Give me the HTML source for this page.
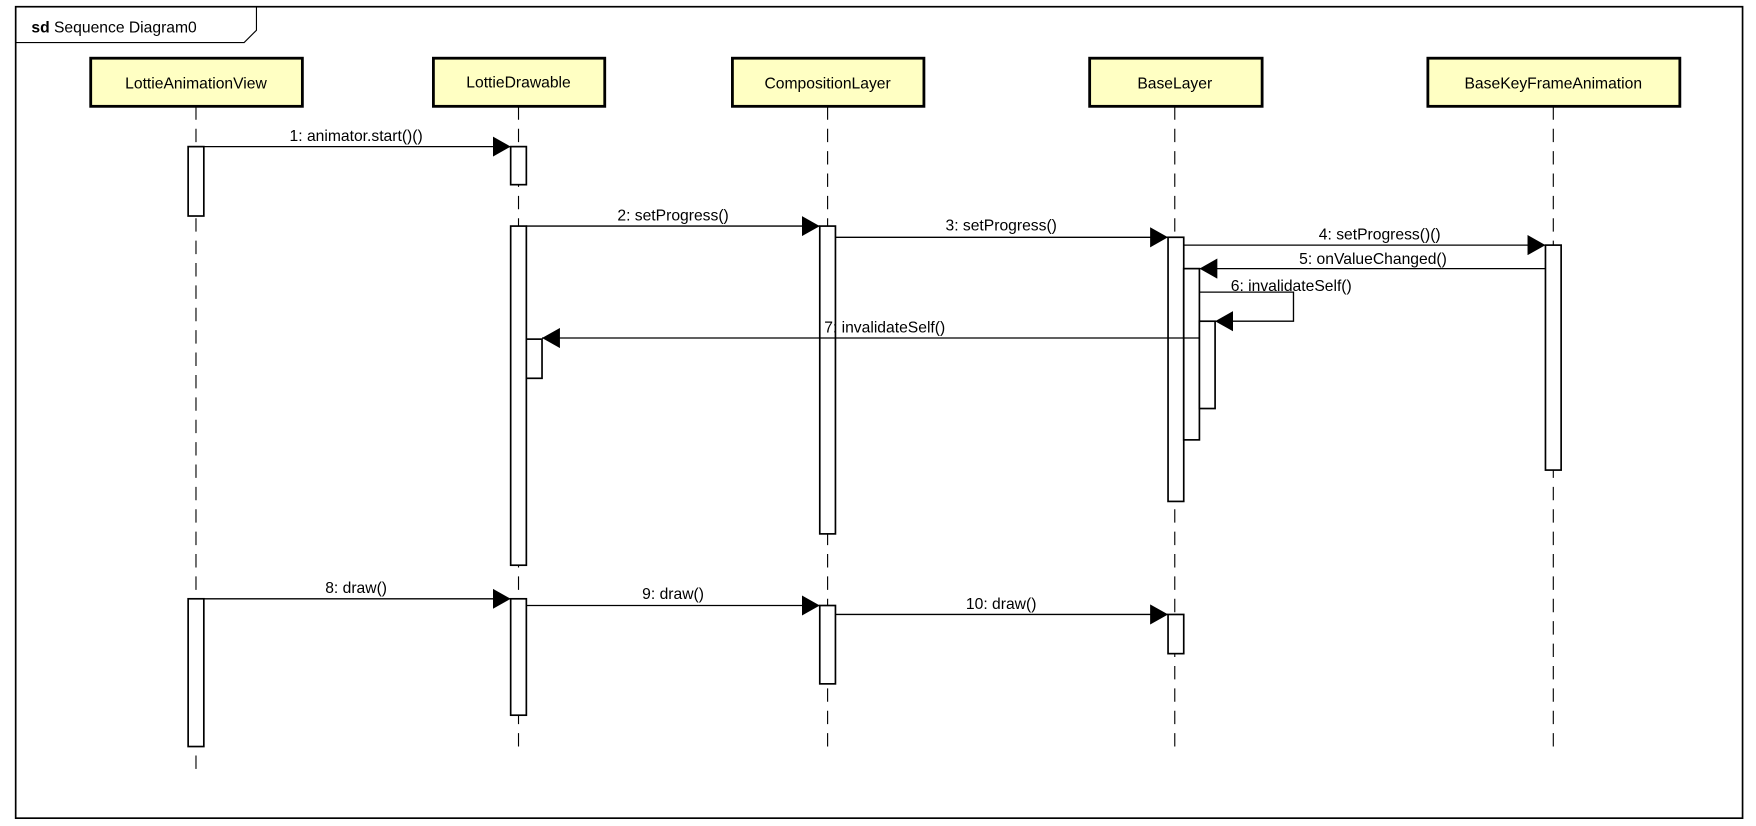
<!DOCTYPE html>
<html><head><meta charset="utf-8"><style>
html,body{margin:0;padding:0;background:#fff;width:1756px;height:826px;overflow:hidden}
svg{display:block}
text{font-family:"Liberation Sans",sans-serif;font-size:14px;fill:#000}
</style></head><body>
<svg width="1756" height="826" viewBox="0 0 1568 738" preserveAspectRatio="none">
<defs>
<marker id="ah" markerWidth="16" markerHeight="18" refX="16" refY="9" orient="auto" markerUnits="userSpaceOnUse">
<path d="M0,0 L16,9 L0,18 Z" fill="#000"/>
</marker>
</defs>
<rect x="14" y="6" width="1542" height="725" fill="#fff" stroke="#000" stroke-width="1.5"/>
<path d="M14,38 L218,38 L229,27 L229,6" fill="none" stroke="#000" stroke-width="1"/>
<text x="28" y="29" font-size="15"><tspan font-weight="bold">sd</tspan> Sequence Diagram0</text>

<g stroke="#000" stroke-width="1" stroke-dasharray="12,8" fill="none">
<line x1="175" y1="95" x2="175" y2="690"/>
<line x1="463" y1="95" x2="463" y2="672"/>
<line x1="739" y1="95" x2="739" y2="672"/>
<line x1="1049" y1="95" x2="1049" y2="672"/>
<line x1="1387" y1="95" x2="1387" y2="672"/>
</g>

<g fill="#ffffc3" stroke="#000" stroke-width="2.5">
<rect x="81" y="52" width="189" height="43"/>
<rect x="387" y="52" width="153" height="43"/>
<rect x="654" y="52" width="171" height="43"/>
<rect x="973" y="52" width="154" height="43"/>
<rect x="1275" y="52" width="225" height="43"/>
</g>
<g text-anchor="middle" font-size="15">
<text x="175" y="79">LottieAnimationView</text>
<text x="463" y="78">LottieDrawable</text>
<text x="739" y="79">CompositionLayer</text>
<text x="1049" y="79">BaseLayer</text>
<text x="1387" y="79">BaseKeyFrameAnimation</text>
</g>

<g fill="#fff" stroke="#000" stroke-width="1.5">
<rect x="168" y="131" width="14" height="62"/>
<rect x="168" y="535" width="14" height="132"/>
<rect x="456" y="131" width="14" height="34"/>
<rect x="456" y="202" width="14" height="303"/>
<rect x="470" y="303" width="14" height="35"/>
<rect x="456" y="535" width="14" height="104"/>
<rect x="732" y="202" width="14" height="275"/>
<rect x="732" y="541" width="14" height="70"/>
<rect x="1043" y="212" width="14" height="236"/>
<rect x="1057" y="240" width="14" height="153"/>
<rect x="1071" y="287" width="14" height="78"/>
<rect x="1043" y="549" width="14" height="35"/>
<rect x="1380" y="219" width="14" height="201"/>
</g>

<g stroke="#000" stroke-width="1.2" fill="none" marker-end="url(#ah)">
<line x1="182" y1="131" x2="456" y2="131"/>
<line x1="470" y1="202" x2="732" y2="202"/>
<line x1="746" y1="212" x2="1043" y2="212"/>
<line x1="1057" y1="219" x2="1380" y2="219"/>
<line x1="1380" y1="240" x2="1071" y2="240"/>
<polyline points="1071,261 1155,261 1155,287 1085,287"/>
<line x1="1071" y1="302" x2="484" y2="302"/>
<line x1="182" y1="535" x2="456" y2="535"/>
<line x1="470" y1="541" x2="732" y2="541"/>
<line x1="746" y1="549" x2="1043" y2="549"/>
</g>

<g text-anchor="middle">
<text x="318" y="126">1: animator.start()()</text>
<text x="601" y="197">2: setProgress()</text>
<text x="894" y="206">3: setProgress()</text>
<text x="1232" y="214">4: setProgress()()</text>
<text x="1226" y="236">5: onValueChanged()</text>
<text x="1153" y="260">6: invalidateSelf()</text>
<text x="790" y="297">7: invalidateSelf()</text>
<text x="318" y="530">8: draw()</text>
<text x="601" y="535">9: draw()</text>
<text x="894" y="544">10: draw()</text>
</g>
</svg>
</body></html>
